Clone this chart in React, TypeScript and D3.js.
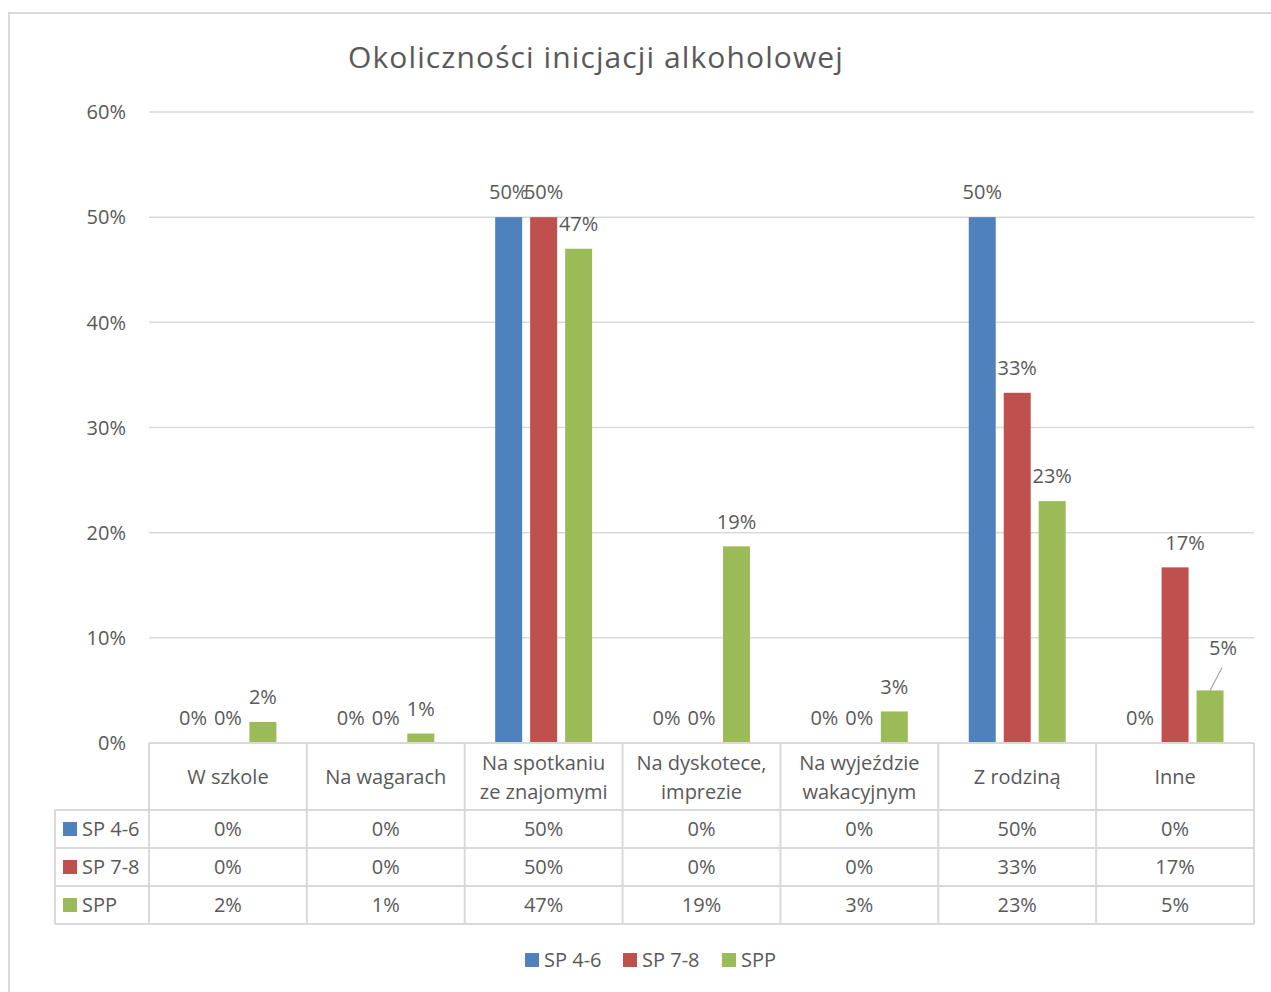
import React from "react";
import * as d3 from "d3";

const title = "Okoliczności inicjacji alkoholowej";
const categories = [
  "W szkole",
  "Na wagarach",
  "Na spotkaniu\nze znajomymi",
  "Na dyskotece,\nimprezie",
  "Na wyjeździe\nwakacyjnym",
  "Z rodziną",
  "Inne",
];
const seriesNames = ["SP 4-6", "SP 7-8", "SPP"];
const sp46 = [0, 0, 50, 0, 0, 50, 0];
const sp78 = [0, 0, 50, 0, 0, 33.3, 16.7];
const spp = [2.0, 0.9, 47.0, 18.7, 3.0, 23.0, 5.0];
const colors = ["#4F81BD", "#C0504D", "#9BBB59"];
const yTicks = [0, 10, 20, 30, 40, 50, 60];

const W = 1271;
const H = 992;
const FONT = "'Open Sans', 'Noto Sans', sans-serif";
const TXT = "#595959";
const GRID = "#d9d9d9";

export default function App() {
  const series = [sp46, sp78, spp];
  const left = 149;
  const right = 1254;
  const y0 = 743;
  const yTop = 112;
  const x = d3.scaleBand<string>().domain(categories).range([left, right]).padding(0);
  const catW = x.bandwidth();
  const inner = d3
    .scaleBand<string>()
    .domain(seriesNames)
    .range([catW * 0.193, catW * 0.807])
    .paddingInner(0.2286);
  const y = d3.scaleLinear().domain([0, 60]).range([y0, yTop]);

  const rowTops = [810, 848, 886];
  const rowH = 38;
  const tableLeft = 55;
  const tableBottom = 924;

  const bars: React.ReactNode[] = [];
  const labels: React.ReactNode[] = [];
  series.forEach((vals, si) => {
    vals.forEach((v, ci) => {
      const bx = (x(categories[ci]) as number) + (inner(seriesNames[si]) as number);
      const bw = inner.bandwidth();
      const top = y(v);
      if (v > 0) {
        bars.push(
          <rect key={`b${si}-${ci}`} x={bx} y={top} width={bw} height={y0 - top} fill={colors[si]} />
        );
      }
      let lx = bx + bw / 2;
      let ly = top - 25;
      let leader: React.ReactNode = null;
      if (si === 1 && ci === 6) lx += 10;
      if (si === 2 && ci === 6) {
        lx += 13;
        ly -= 18;
        leader = (
          <line
            key={`ll${si}-${ci}`}
            x1={bx + bw / 2}
            y1={top}
            x2={bx + bw / 2 + 12}
            y2={top - 23}
            stroke="#a6a6a6"
            strokeWidth={1.2}
          />
        );
      }
      if (leader) labels.push(leader);
      labels.push(
        <text
          key={`l${si}-${ci}`}
          x={lx}
          y={ly}
          dy="0.36em"
          textAnchor="middle"
          fontSize={20}
          fill={TXT}
        >
          {`${Math.round(v)}%`}
        </text>
      );
    });
  });

  return (
    <div style={{ position: "absolute", left: 0, top: 0 }}>
      <svg width={W} height={H} style={{ display: "block", fontFamily: FONT }}>
        <rect x={0} y={0} width={W} height={H} fill="#fff" />
        {/* outer border */}
        <line x1={8} y1={13} x2={W} y2={13} stroke={GRID} strokeWidth={2} />
        <line x1={9} y1={12} x2={9} y2={H} stroke={GRID} strokeWidth={2} />
        {/* title */}
        <text
          x={596}
          y={57}
          dy="0.36em"
          textAnchor="middle"
          fontSize={30}
          letterSpacing={1.1}
          fill={TXT}
        >
          {title}
        </text>
        {/* gridlines and y ticks */}
        {yTicks.map((t) => (
          <g key={`t${t}`}>
            {t > 0 && (
              <line x1={left} x2={right} y1={y(t)} y2={y(t)} stroke={GRID} strokeWidth={1.5} />
            )}
            <text x={126} y={y(t)} dy="0.36em" textAnchor="end" fontSize={20} fill={TXT}>
              {`${t}%`}
            </text>
          </g>
        ))}
        {bars}
        {labels}
        {/* data table */}
        <g stroke={GRID} strokeWidth={2} fill="none">
          <line x1={left} x2={right} y1={y0} y2={y0} />
          {rowTops.map((r) => (
            <line key={`r${r}`} x1={tableLeft} x2={right} y1={r} y2={r} />
          ))}
          <line x1={tableLeft} x2={right} y1={tableBottom} y2={tableBottom} />
          <line x1={tableLeft} x2={tableLeft} y1={rowTops[0]} y2={tableBottom} />
          {categories.map((c) => (
            <line key={`v${c}`} x1={x(c) as number} x2={x(c) as number} y1={y0} y2={tableBottom} />
          ))}
          <line x1={right} x2={right} y1={y0} y2={tableBottom} />
        </g>
        {categories.map((c) => {
          const lines = c.split("\n");
          const cx = (x(c) as number) + catW / 2;
          const cy = 777;
          return (
            <text key={`h${c}`} textAnchor="middle" fontSize={20} fill={TXT}>
              {lines.map((ln, i) => (
                <tspan key={i} x={cx} y={cy + (i - (lines.length - 1) / 2) * 29} dy="0.36em">
                  {ln}
                </tspan>
              ))}
            </text>
          );
        })}
        {series.map((vals, si) => (
          <g key={`row${si}`}>
            <rect x={63} y={rowTops[si] + 12} width={14} height={14} fill={colors[si]} />
            <text x={82} y={rowTops[si] + rowH / 2} dy="0.36em" fontSize={20} fill={TXT}>
              {seriesNames[si]}
            </text>
            {vals.map((v, ci) => (
              <text
                key={`c${si}-${ci}`}
                x={(x(categories[ci]) as number) + catW / 2}
                y={rowTops[si] + rowH / 2}
                dy="0.36em"
                textAnchor="middle"
                fontSize={20}
                fill={TXT}
              >
                {`${Math.round(v)}%`}
              </text>
            ))}
          </g>
        ))}
        {/* legend */}
        {seriesNames.map((s, i) => {
          const lx = [525, 623, 722][i];
          return (
            <g key={`lg${s}`}>
              <rect x={lx} y={953} width={14} height={14} fill={colors[i]} />
              <text x={lx + 19} y={960} dy="0.36em" fontSize={20} fill={TXT}>
                {s}
              </text>
            </g>
          );
        })}
      </svg>
    </div>
  );
}
